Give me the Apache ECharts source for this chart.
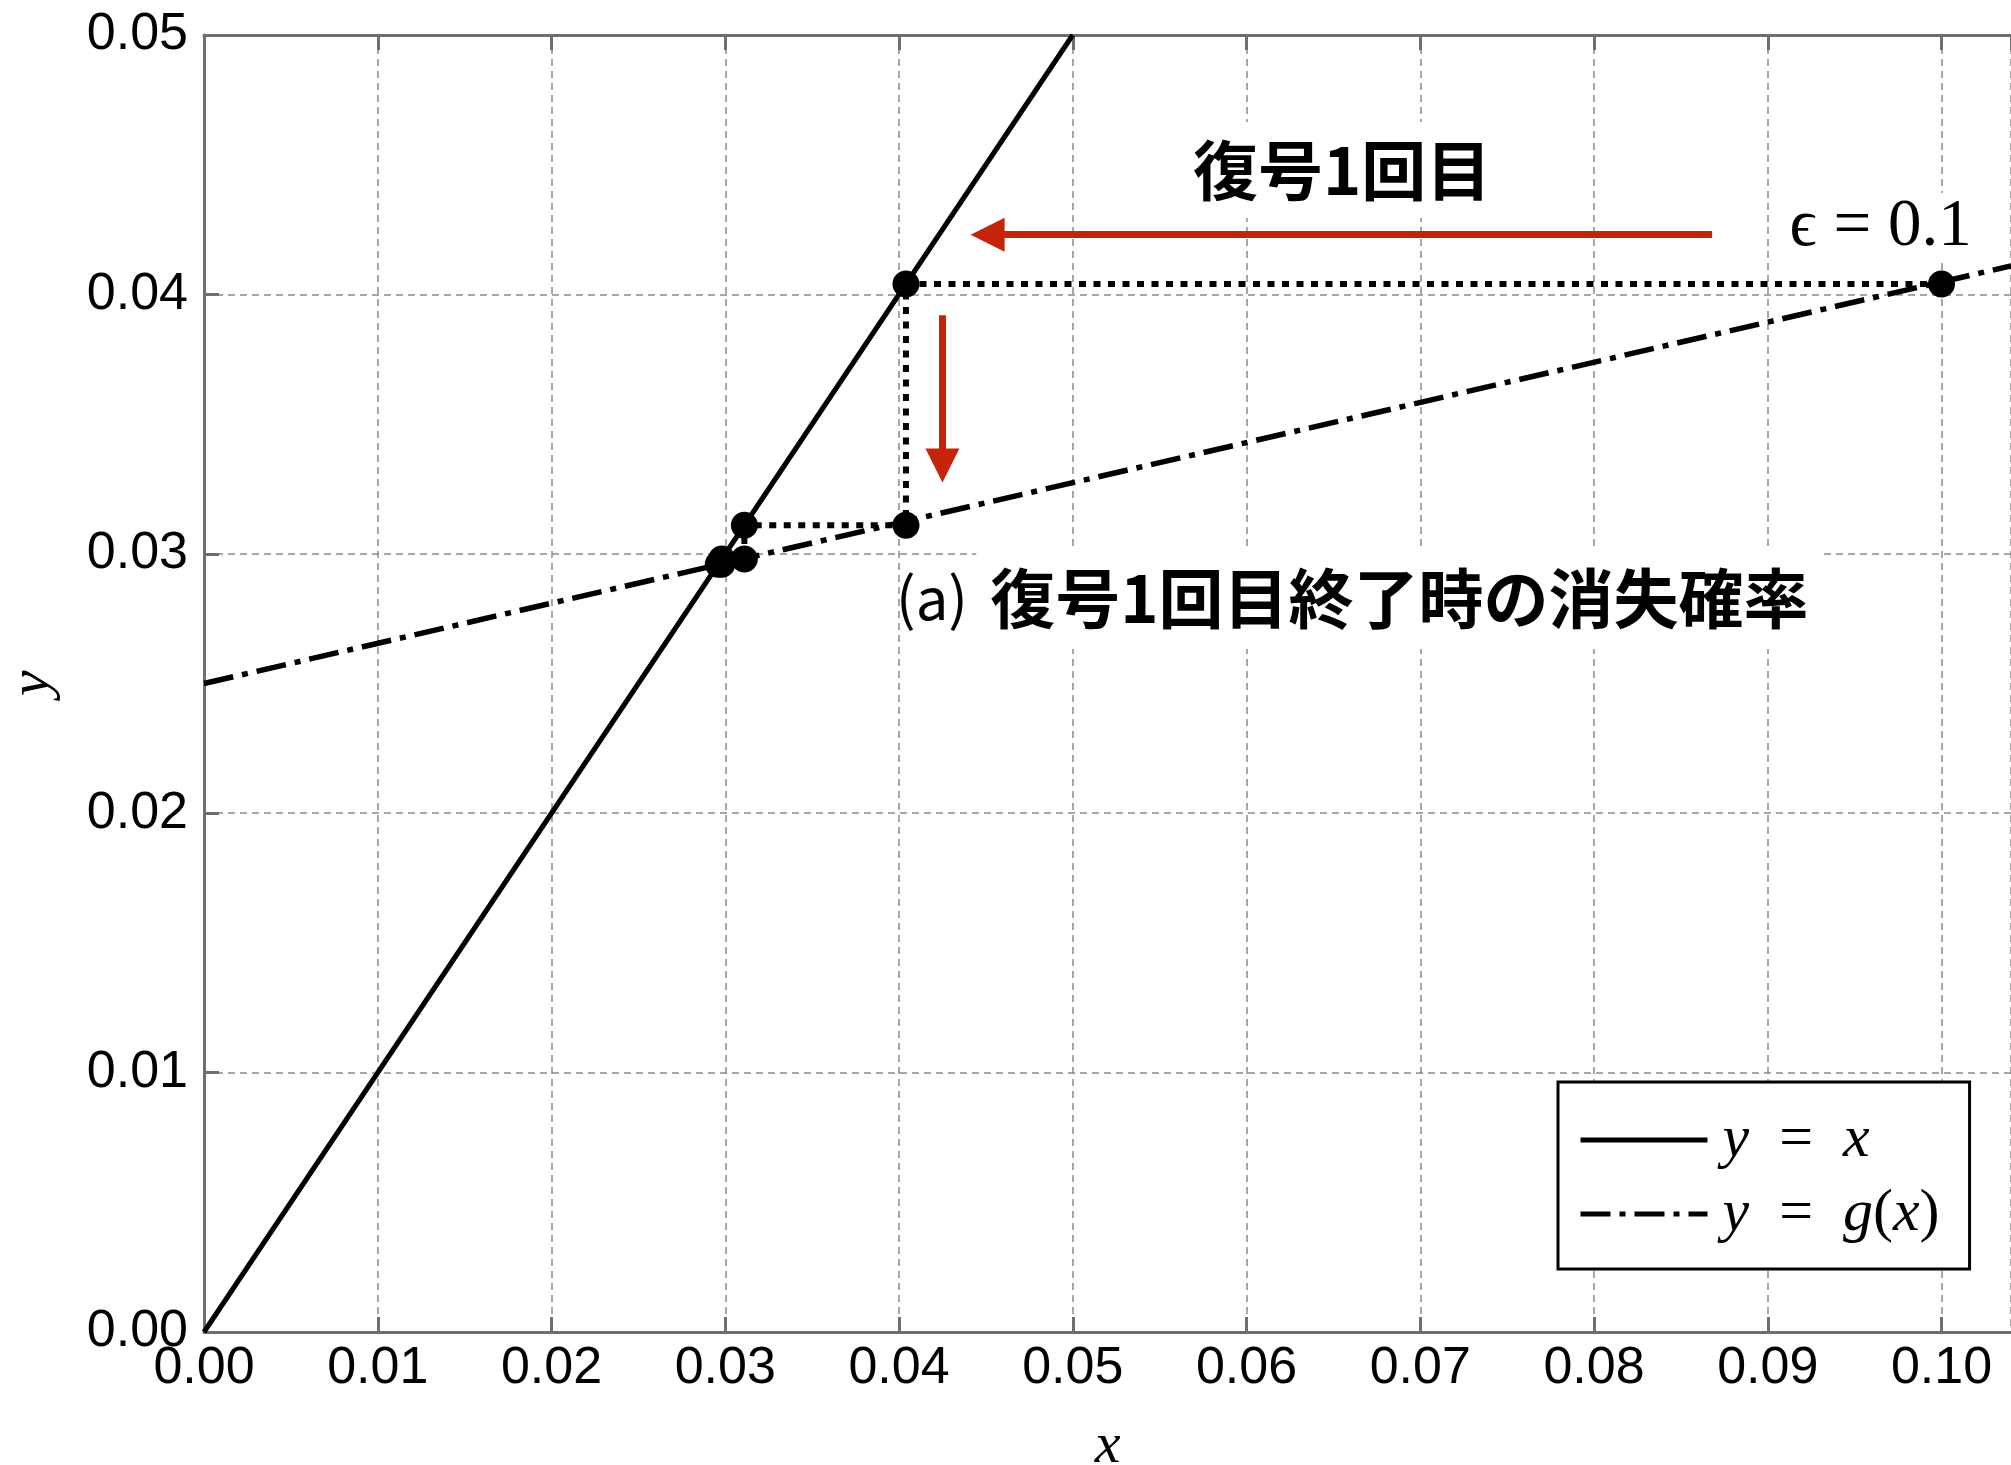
<!DOCTYPE html>
<html>
<head>
<meta charset="utf-8">
<script src="https://cdn.jsdelivr.net/npm/echarts@6/dist/echarts.min.js"></script>
<style>
  html, body { margin: 0; padding: 0; background: #fff; }
  #chart { width: 2011px; height: 1465px; }
</style>
</head>
<body>
<div id="chart"></div>
<script>
// values
const identityLine = [[0, 0], [0.05, 0.05]];
const gLine = [[0, 0.025], [0.104, 0.0411]];
// x_{k+1} = g(x_k), starting at epsilon = 0.1
const iterates = [0.1, 0.0404, 0.0311, 0.0298, 0.0296];
const arrowLeft = [[0.0868, 0.0423], [0.0451, 0.0423]];
const arrowDown = [[0.0425, 0.0392], [0.0425, 0.0334]];
const noteTexts = ['復号1回目', 'ϵ = 0.1', '(a)', '復号1回目終了時の消失確率'];
const noteAnchors = [[0.0655, 0.0448], [0.0965, 0.0426], [0.0419, 0.0283], [0.0688, 0.0283]];

// cobweb path: (x0,x1) -> (x1,x1) -> (x1,x2) -> (x2,x2) ...
const cobweb = [];
for (let k = 0; k < iterates.length - 1; k++) {
  if (k > 0) cobweb.push([iterates[k], iterates[k]]);
  cobweb.push([iterates[k], iterates[k + 1]]);
}
cobweb.push([iterates[iterates.length - 1], iterates[iterates.length - 1]]);

const axisGray = '#6f6f6f';
const red = '#c72308';
const jp = 'Noto Sans CJK JP';
const serif = 'Liberation Serif, DejaVu Serif, serif';

const noteStyles = [
  { fontFamily: jp, fontWeight: 'bold', fontSize: 65, lineHeight: 64, backgroundColor: '#fff', padding: [16, 16] },
  { fontFamily: serif, fontSize: 67, lineHeight: 64, backgroundColor: '#fff', padding: [2, 6] },
  { fontFamily: jp, fontSize: 58, lineHeight: 62 },
  { fontFamily: jp, fontWeight: 'bold', fontSize: 65, lineHeight: 64, backgroundColor: '#fff', padding: [19, 14] }
];

const chart = echarts.init(document.getElementById('chart'), null, { renderer: 'canvas' });

const legendNames = { 'y = x': '{i|y}{n|\u2002=\u2002}{i|x}', 'y = g(x)': '{i|y}{n|\u2002=\u2002}{i|g}{n|(}{i|x}{n|)}' };

const option = {
  animation: false,
  backgroundColor: '#fff',
  grid: { left: 204, top: 35, right: 0, bottom: 133, containLabel: false, outerBoundsMode: 'none' },
  legend: {
    orient: 'vertical',
    left: 1558,
    top: 1082,
    padding: [28, 30, 25, 20],
    itemGap: 14,
    itemWidth: 127,
    itemHeight: 1,
    borderColor: '#000',
    borderWidth: 3,
    backgroundColor: '#fff',
    selectedMode: false,
    lineStyle: { width: 5 },
    formatter: name => legendNames[name],
    textStyle: {
      color: '#000',
      padding: [0, 0, 0, 10],
      rich: {
        i: { fontFamily: serif, fontStyle: 'italic', fontSize: 60, lineHeight: 58 },
        n: { fontFamily: serif, fontSize: 60, lineHeight: 58 }
      }
    },
    data: ['y = x', 'y = g(x)']
  },
  xAxis: [
    {
      type: 'value',
      min: 0,
      max: 0.104,
      interval: 0.01,
      name: 'x',
      nameLocation: 'middle',
      nameGap: 86,
      nameTextStyle: { fontFamily: serif, fontStyle: 'italic', fontSize: 58, color: '#000' },
      axisLine: { show: true, onZero: false, lineStyle: { color: axisGray, width: 3 } },
      axisTick: { show: true, inside: true, length: 15, lineStyle: { color: axisGray, width: 3 } },
      axisLabel: {
        margin: 11,
        fontFamily: 'Liberation Sans',
        fontSize: 52,
        color: '#000',
        showMaxLabel: false,
        formatter: v => v.toFixed(2)
      },
      splitLine: { show: true, lineStyle: { color: '#8a8a8a', width: 1.5, type: [7, 5] } }
    },
    {
      type: 'value',
      position: 'top',
      min: 0,
      max: 0.104,
      interval: 0.01,
      axisLine: { show: true, onZero: false, lineStyle: { color: axisGray, width: 3 } },
      axisTick: { show: true, inside: true, length: 15, lineStyle: { color: axisGray, width: 3 } },
      axisLabel: { show: false },
      splitLine: { show: false }
    }
  ],
  yAxis: {
    type: 'value',
    min: 0,
    max: 0.05,
    interval: 0.01,
    name: 'y',
    nameLocation: 'middle',
    nameGap: 142,
    nameTextStyle: { fontFamily: serif, fontStyle: 'italic', fontSize: 58, color: '#000' },
    axisLine: { show: true, onZero: false, lineStyle: { color: axisGray, width: 3 } },
    axisTick: { show: true, inside: true, length: 15, lineStyle: { color: axisGray, width: 3 } },
    axisLabel: {
      margin: 16,
      fontFamily: 'Liberation Sans',
      fontSize: 52,
      color: '#000',
      formatter: v => v.toFixed(2)
    },
    splitLine: { show: true, lineStyle: { color: '#8a8a8a', width: 1.5, type: [7, 5] } }
  },
  series: [
    {
      name: 'y = x',
      type: 'line',
      data: identityLine,
      symbol: 'none',
      lineStyle: { color: '#000', width: 5 },
      itemStyle: { color: '#000' },
      z: 3
    },
    {
      name: 'y = g(x)',
      type: 'line',
      data: gLine,
      symbol: 'none',
      lineStyle: { color: '#000', width: 5.5, type: [30, 9, 6, 9] },
      itemStyle: { color: '#000' },
      z: 3
    },
    {
      name: 'cobweb',
      type: 'line',
      data: cobweb,
      symbol: 'none',
      lineStyle: { color: '#000', width: 6, type: [7, 7.5] },
      z: 4
    },
    {
      name: 'points',
      type: 'scatter',
      data: cobweb,
      symbol: 'circle',
      symbolSize: 27,
      itemStyle: { color: '#000', opacity: 1 },
      z: 5
    },
    {
      name: 'arrows',
      type: 'lines',
      coordinateSystem: 'cartesian2d',
      symbol: ['none', 'triangle'],
      symbolSize: [35, 34],
      lineStyle: { color: red, width: 7, opacity: 1, curveness: 0 },
      data: [{ coords: arrowLeft }, { coords: arrowDown }],
      z: 6
    },
    {
      name: 'notes',
      type: 'scatter',
      symbolSize: 0,
      silent: true,
      itemStyle: { opacity: 1 },
      data: noteTexts.map((t, i) => ({
        name: t,
        value: noteAnchors[i],
        label: Object.assign({ show: true, position: 'inside', formatter: '{b}', color: '#000' }, noteStyles[i])
      })),
      z: 7
    }
  ]
};

chart.setOption(option);
</script>
</body>
</html>
